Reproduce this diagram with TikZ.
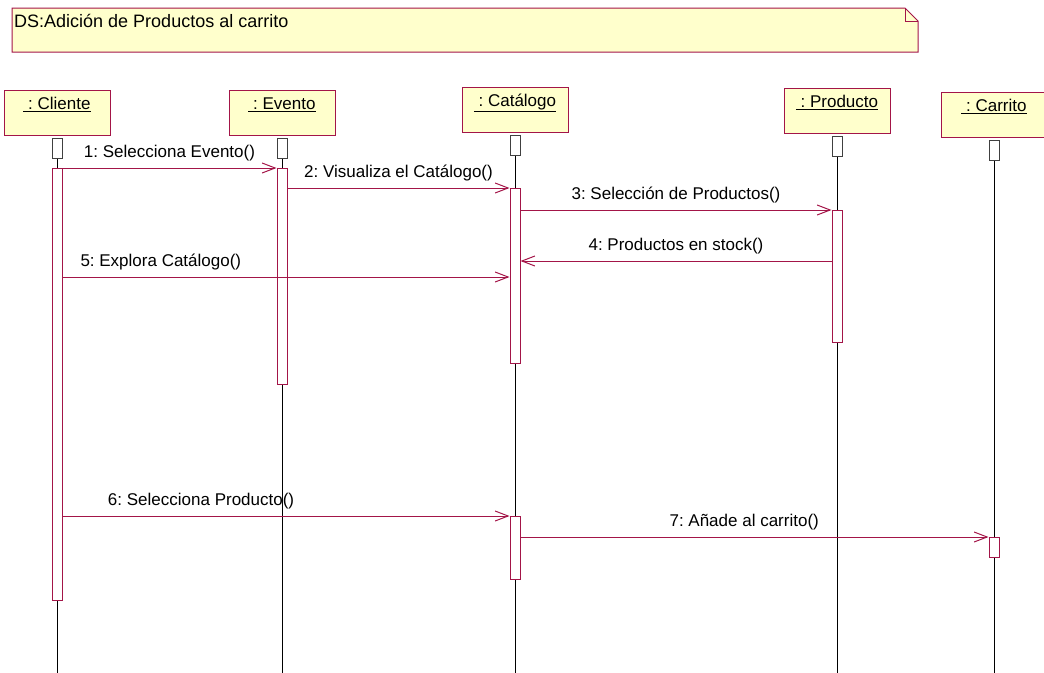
\documentclass[tikz,border=0pt]{standalone}
\usepackage{fontspec}
\setmainfont{Liberation Sans}
\usetikzlibrary{arrows.meta,calc}
\definecolor{crim}{RGB}{163,21,72}
\definecolor{notefill}{RGB}{255,255,204}
\frenchspacing
\begin{document}
\begin{tikzpicture}[x=1pt,y=-1pt,
  txt/.style={font=\fontsize{17}{20}\selectfont, inner sep=0pt, text=black},
  head/.style={draw=crim, fill=notefill, line width=1pt, minimum width=106pt, minimum height=45pt,
    text height=16pt, text depth=23pt, inner xsep=0pt, inner ysep=3pt, anchor=north,
    font=\fontsize{17}{20}\selectfont},
  stub/.style={draw=black!75, fill=white, line width=1pt, minimum width=10pt, minimum height=20pt,
    inner sep=0pt, anchor=north},
  act/.style={draw=crim, fill=white, line width=1pt, minimum width=10pt, inner sep=0pt, anchor=north},
  life/.style={draw=black, line width=1pt},
  msg/.style={draw=crim, line width=1pt, -{Straight Barb[length=13pt,width=10pt]}},
  lbl/.style={txt, anchor=base, yshift=11pt}
]
\useasboundingbox (0,0) rectangle (1044,672);
\coordinate (bot) at (0,673);

% note
\draw[draw=crim, fill=notefill, line width=1pt] (12,8) -- (905,8) -- (918,21) -- (918,52) -- (12,52) -- cycle;
\draw[draw=crim, line width=1pt] (905,8) -- (905,21) -- (918,21);
\node[txt, font=\fontsize{18}{21}\selectfont, anchor=base west] (title) at (14,27) {DS:Adición de Productos al carrito};

% heads
\node[head] (cli) at (57,90) {\underline{\ : Cliente}};
\node[head] (eve) at (282,90) {\underline{\ : Evento}};
\node[head] (cat) at (515,87) {\underline{\ : Catálogo}};
\node[head] (pro) at (837,88) {\underline{\ : Producto}};
\node[head] (car) at (994,92) {\underline{\ : Carrito}};

% stubs
\node[stub] (cliS) at ([yshift=-2pt]cli.south) {};
\node[stub] (eveS) at ([yshift=-2pt]eve.south) {};
\node[stub] (catS) at ([yshift=-2pt]cat.south) {};
\node[stub] (proS) at ([yshift=-2pt]pro.south) {};
\node[stub] (carS) at ([yshift=-2pt]car.south) {};

% lifelines
\foreach \s in {cliS,eveS,catS,proS,carS}
  \draw[life] (\s.south) -- (\s.south |- bot);

% activations
\node[act, minimum height=432pt] (cliA) at (57,168) {};
\node[act, minimum height=216pt] (eveA) at (282,168) {};
\node[act, minimum height=175pt] (catA) at (515,188) {};
\node[act, minimum height=132pt] (proA) at (837,210) {};
\node[act, minimum height=63pt] (catB) at (515,516) {};
\node[act, minimum height=20pt] (carA) at (994,537) {};

% message levels
\coordinate (y4) at (0,261);
\coordinate (y5) at (0,277);

% messages
\draw[msg] (cliA.north east) -- node[lbl] {1: Selecciona Evento()} (eveA.north west);
\draw[msg] (eveA.east |- catA.north) -- node[lbl] {2: Visualiza el Catálogo()} (catA.north west);
\draw[msg] (catA.east |- proA.north) -- node[lbl] {3: Selección de Productos()} (proA.north west);
\draw[msg] (proA.west |- y4) -- node[lbl] {4: Productos en stock()} (catA.east |- y4);
\draw[msg] (cliA.east |- y5) -- node[lbl, pos=0.22] {5: Explora Catálogo()} (catA.west |- y5);
\draw[msg] (cliA.east |- catB.north) -- node[lbl, pos=0.31] {6: Selecciona Producto()} (catB.north west);
\draw[msg] (catB.east |- carA.north) -- node[lbl, pos=0.478] {7: Añade al carrito()} (carA.north west);
\end{tikzpicture}
\end{document}
